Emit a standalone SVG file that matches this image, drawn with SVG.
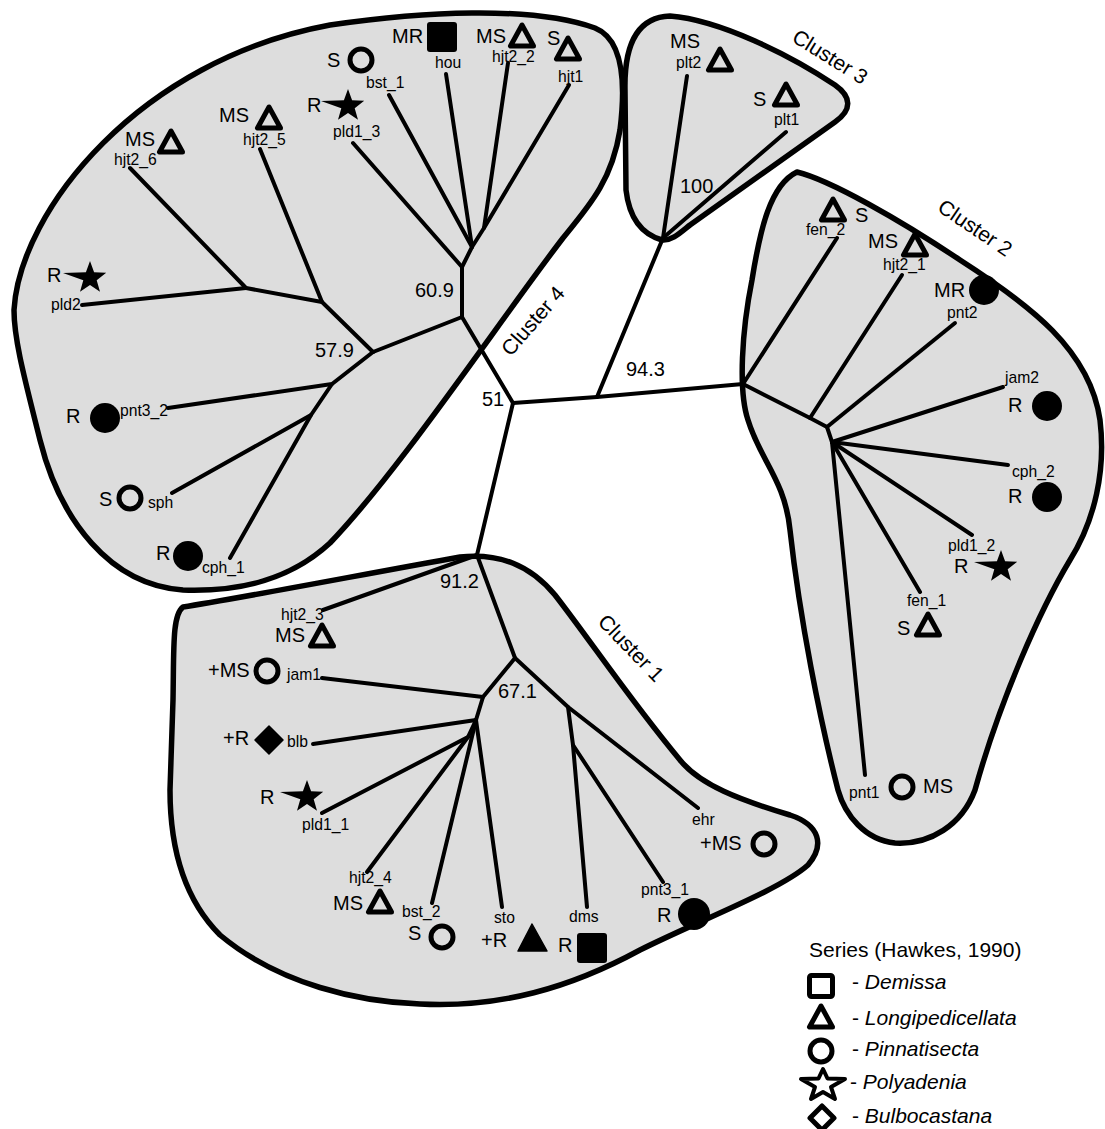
<svg xmlns="http://www.w3.org/2000/svg" width="1105" height="1129" viewBox="0 0 1105 1129">
<style>
.cl{fill:#dddddd;stroke:#000;stroke-width:5.5;stroke-linejoin:round}
.e{stroke:#000;stroke-width:4;fill:none;stroke-linecap:round;stroke-linejoin:round}
text{font-family:"Liberation Sans",Arial,Helvetica,sans-serif;fill:#000}
.lb{font-size:20px}
.id{font-size:15.7px}
.lg{font-size:21px}
.it{font-style:italic}
.ot{fill:none;stroke:#000;stroke-width:5;stroke-linejoin:round}
.oc{fill:none;stroke:#000;stroke-width:5}
.fc{fill:#000}
.fs{fill:#000;stroke:#000;stroke-width:1.5;stroke-linejoin:round}
</style>
<defs>
<path id="tri" d="M0,-11 L-11.5,10 L11.5,10 Z"/>
<path id="star" d="M0,-17 L4.1,-5.7 L16.2,-5.3 L6.7,2.2 L10,13.8 L0,7 L-10,13.8 L-6.7,2.2 L-27,-5 L-4.1,-5.7 Z"/>
</defs>
<rect width="1105" height="1129" fill="#fff"/>
<g id="clusters">
<path id="cluster4" class="cl" d="M14,310 C20,210 140,60 330,25 C420,12 530,5 595,28 C625,40 625,90 620,130 C612,180 590,205 563,238 C500,320 400,470 330,543 C290,580 240,592 183,590 C110,585 60,520 40,440 C25,380 14,340 14,310 Z"/>
<path id="cluster3" class="cl" d="M662,240 C648,236 630,225 626,190 L625,90 C624,40 640,17 670,16 C720,20 790,55 835,85 C852,97 852,110 835,122 L690,225 C680,233 672,241 662,240 Z"/>
<path id="cluster2" class="cl" d="M797,172 C830,180 900,220 960,260 C1030,305 1090,350 1100,420 C1106,470 1095,520 1070,560 C1040,610 1000,700 975,790 C962,825 930,845 895,843 C865,840 845,815 838,790 C820,720 800,620 790,530 C785,480 760,460 748,420 C738,390 742,330 752,280 C760,230 770,185 797,172 Z"/>
<path id="cluster1" class="cl" d="M183,607 C230,600 360,575 460,557 C500,553 530,565 555,595 C590,640 630,700 680,760 C700,785 740,800 790,815 C820,825 825,845 808,865 C780,890 700,920 640,950 C570,988 500,1008 420,1004 C360,1002 280,985 220,935 C185,900 170,850 170,790 L173,700 C174,650 172,615 183,607 Z"/>
</g>
<g id="connectors">
<path class="e" d="M513,403 L462,317 L462,267"/>
<path class="e" d="M462,317 L373,352"/>
<path class="e" d="M462,267 L353,143"/>
<path class="e" d="M462,267 L472,247 L389,95"/>
<path class="e" d="M472,247 L446,74"/>
<path class="e" d="M472,247 L484,228 L508,63"/>
<path class="e" d="M484,228 L569,85"/>
<path class="e" d="M373,352 L322,302 L260,149"/>
<path class="e" d="M322,302 L246,288 L130,168"/>
<path class="e" d="M246,288 L82,305"/>
<path class="e" d="M373,352 L332,384 L168,408"/>
<path class="e" d="M332,384 L311,415 L172,493"/>
<path class="e" d="M311,415 L230,558"/>
<path class="e" d="M513,403 L597,397 L743,384"/>
<path class="e" d="M597,397 L663,238 L687,76"/>
<path class="e" d="M663,238 L786,132"/>
<path class="e" d="M743,384 L837,238"/>
<path class="e" d="M743,384 L810,418 L827,427 L832,442"/>
<path class="e" d="M810,418 L902,275"/>
<path class="e" d="M827,427 L955,323"/>
<path class="e" d="M832,442 L1003,387"/>
<path class="e" d="M832,442 L1008,465"/>
<path class="e" d="M832,442 L972,535"/>
<path class="e" d="M832,442 L920,592"/>
<path class="e" d="M832,442 L865,775"/>
<path class="e" d="M513,403 L477,555 L323,610"/>
<path class="e" d="M477,555 L515,658 L483,697 L322,678"/>
<path class="e" d="M483,697 L476,720 L313,744"/>
<path class="e" d="M476,720 L468,737 L322,813"/>
<path class="e" d="M468,737 L367,872"/>
<path class="e" d="M476,720 L432,903"/>
<path class="e" d="M476,720 L502,907"/>
<path class="e" d="M515,658 L568,707 L698,808"/>
<path class="e" d="M568,707 L573,745 L587,907"/>
<path class="e" d="M573,745 L663,882"/>
</g>
<g id="support-values" class="lb">
<text x="415" y="297">60.9</text>
<text x="315" y="357">57.9</text>
<text x="482" y="406">51</text>
<text x="626" y="376">94.3</text>
<text x="440" y="588">91.2</text>
<text x="498" y="698">67.1</text>
<text x="680" y="193">100</text>
</g>
<g id="cluster-labels" class="lb" style="font-size:21px" text-anchor="middle">
<text transform="translate(830,57) rotate(32)" y="7">Cluster 3</text>
<text transform="translate(975,228) rotate(34)" y="7">Cluster 2</text>
<text transform="translate(631,648) rotate(46)" y="7">Cluster 1</text>
<text transform="translate(533,321) rotate(-49)" y="7">Cluster 4</text>
</g>
<g id="hjt2_6"><use href="#tri" class="ot" x="171" y="142"/><text class="lb" x="125" y="146">MS</text><text class="id" x="114" y="165">hjt2_6</text></g>
<g id="hjt2_5"><use href="#tri" class="ot" x="269" y="118"/><text class="lb" x="219" y="122">MS</text><text class="id" x="243" y="145">hjt2_5</text></g>
<g id="pld1_3"><use href="#star" class="fc" x="348" y="106"/><text class="lb" x="307" y="112">R</text><text class="id" x="333" y="137">pld1_3</text></g>
<g id="bst_1"><circle class="oc" cx="361" cy="60" r="11"/><text class="lb" x="327" y="67">S</text><text class="id" x="366" y="88">bst_1</text></g>
<g id="hou"><rect class="fc" x="427" y="22" width="30" height="30" rx="3"/><text class="lb" x="392" y="43">MR</text><text class="id" x="435" y="68">hou</text></g>
<g id="hjt2_2"><use href="#tri" class="ot" x="522" y="36"/><text class="lb" x="476" y="43">MS</text><text class="id" x="492" y="62">hjt2_2</text></g>
<g id="hjt1"><use href="#tri" class="ot" x="568" y="49"/><text class="lb" x="547" y="45">S</text><text class="id" x="558" y="82">hjt1</text></g>
<g id="pld2"><use href="#star" class="fc" x="90" y="278"/><text class="lb" x="47" y="282">R</text><text class="id" x="51" y="310">pld2</text></g>
<g id="pnt3_2"><circle class="fc" cx="105" cy="418" r="15"/><text class="lb" x="66" y="423">R</text><text class="id" x="120" y="416">pnt3_2</text></g>
<g id="sph"><circle class="oc" cx="130" cy="498" r="11"/><text class="lb" x="99" y="506">S</text><text class="id" x="148" y="508">sph</text></g>
<g id="cph_1"><circle class="fc" cx="188" cy="556" r="15"/><text class="lb" x="156" y="560">R</text><text class="id" x="202" y="573">cph_1</text></g>
<g id="plt2"><use href="#tri" class="ot" x="720" y="60"/><text class="lb" x="670" y="48">MS</text><text class="id" x="676" y="68">plt2</text></g>
<g id="plt1"><use href="#tri" class="ot" x="786" y="95"/><text class="lb" x="753" y="106">S</text><text class="id" x="774" y="125">plt1</text></g>
<g id="fen_2"><use href="#tri" class="ot" x="833" y="210"/><text class="lb" x="855" y="222">S</text><text class="id" x="806" y="235">fen_2</text></g>
<g id="hjt2_1"><use href="#tri" class="ot" x="915" y="245"/><text class="lb" x="868" y="248">MS</text><text class="id" x="883" y="270">hjt2_1</text></g>
<g id="pnt2"><circle class="fc" cx="984" cy="290" r="15"/><text class="lb" x="934" y="297">MR</text><text class="id" x="947" y="318">pnt2</text></g>
<g id="jam2"><circle class="fc" cx="1047" cy="406" r="15"/><text class="lb" x="1008" y="412">R</text><text class="id" x="1005" y="383">jam2</text></g>
<g id="cph_2"><circle class="fc" cx="1047" cy="497" r="15"/><text class="lb" x="1008" y="503">R</text><text class="id" x="1012" y="477">cph_2</text></g>
<g id="pld1_2"><use href="#star" class="fc" x="1001" y="567"/><text class="lb" x="954" y="573">R</text><text class="id" x="948" y="551">pld1_2</text></g>
<g id="fen_1"><use href="#tri" class="ot" x="928" y="625"/><text class="lb" x="897" y="635">S</text><text class="id" x="907" y="606">fen_1</text></g>
<g id="pnt1"><circle class="oc" cx="902" cy="787" r="11"/><text class="lb" x="923" y="793">MS</text><text class="id" x="849" y="798">pnt1</text></g>
<g id="hjt2_3"><use href="#tri" class="ot" x="322" y="636"/><text class="lb" x="275" y="642">MS</text><text class="id" x="281" y="620">hjt2_3</text></g>
<g id="jam1"><circle class="oc" cx="267" cy="671" r="11"/><text class="lb" x="208" y="677">+MS</text><text class="id" x="287" y="680">jam1</text></g>
<g id="blb"><path class="fs" d="M269,726 L283,740 L269,754 L255,740 Z"/><text class="lb" x="223" y="745">+R</text><text class="id" x="287" y="747">blb</text></g>
<g id="pld1_1"><use href="#star" class="fc" x="307" y="797"/><text class="lb" x="260" y="804">R</text><text class="id" x="302" y="830">pld1_1</text></g>
<g id="hjt2_4"><use href="#tri" class="ot" x="380" y="902"/><text class="lb" x="333" y="910">MS</text><text class="id" x="349" y="883">hjt2_4</text></g>
<g id="bst_2"><circle class="oc" cx="442" cy="937" r="11"/><text class="lb" x="408" y="940">S</text><text class="id" x="402" y="917">bst_2</text></g>
<g id="sto"><path class="fs" d="M532,924 L518,951 L547,951 Z"/><text class="lb" x="481" y="947">+R</text><text class="id" x="494" y="923">sto</text></g>
<g id="dms"><rect class="fc" x="577" y="933" width="30" height="30" rx="3"/><text class="lb" x="558" y="952">R</text><text class="id" x="569" y="922">dms</text></g>
<g id="pnt3_1"><circle class="fc" cx="694" cy="914" r="16"/><text class="lb" x="657" y="922">R</text><text class="id" x="641" y="895">pnt3_1</text></g>
<g id="ehr"><circle class="oc" cx="764" cy="844" r="11"/><text class="lb" x="700" y="850">+MS</text><text class="id" x="692" y="825">ehr</text></g>
<g id="legend">
<text class="lg" x="809" y="957">Series (Hawkes, 1990)</text>
<rect x="809.5" y="975.5" width="23" height="21" rx="2" class="oc"/>
<text class="lg" x="852" y="989">- <tspan class="it">Demissa</tspan></text>
<path class="ot" d="M821,1006 L809.5,1027 L832.5,1027 Z"/>
<text class="lg" x="852" y="1025">- <tspan class="it">Longipedicellata</tspan></text>
<circle class="oc" cx="821" cy="1051" r="11"/>
<text class="lg" x="852" y="1056">- <tspan class="it">Pinnatisecta</tspan></text>
<path d="M823,1069 L827.5,1078.5 L845,1079 L831,1087 L835,1099 L823,1092 L811,1099 L815,1087 L801,1079 L818.5,1078.5 Z" fill="#fff" stroke="#000" stroke-width="4" stroke-linejoin="round"/>
<text class="lg" x="850" y="1089">- <tspan class="it">Polyadenia</tspan></text>
<path class="ot" d="M822,1106 L834,1118 L822,1130 L810,1118 Z"/>
<text class="lg" x="852" y="1123">- <tspan class="it">Bulbocastana</tspan></text>
</g>
</svg>
